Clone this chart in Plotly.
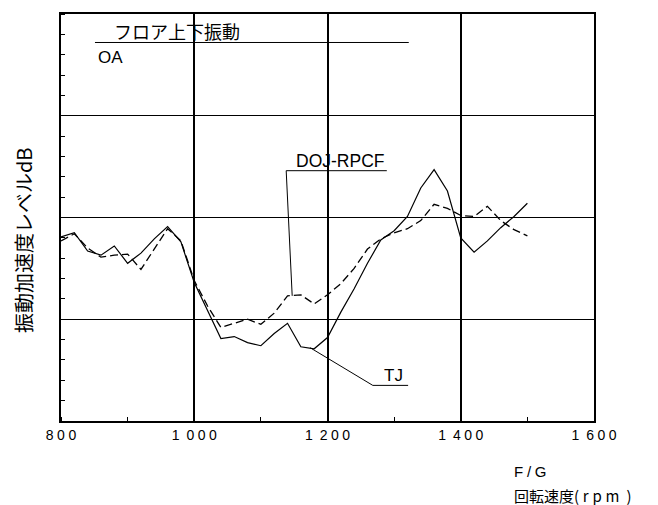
import plotly.graph_objects as go

rpm = list(range(800, 1501, 20))
tj = [18.1, 18.5, 16.7, 16.3, 17.2, 15.5, 16.5, 17.9, 19.1, 17.6,
      13.6, 10.9, 8.1, 8.3, 7.7, 7.4, 8.6, 9.6, 7.3, 7.1,
      8.2, 10.7, 13.0, 15.5, 17.8, 18.7, 20.1, 22.9, 24.7, 22.6,
      18.0, 16.6, 17.7, 19.0, 20.1, 21.4]
doj = [17.7, 18.4, 17.0, 16.1, 16.3, 16.4, 14.9, 16.9, 18.9, 17.7,
       13.8, 11.3, 9.2, 9.6, 10.0, 9.5, 10.6, 12.3, 12.4, 11.5,
       12.4, 13.5, 15.0, 16.9, 17.9, 18.5, 18.9, 19.7, 21.3, 20.9,
       20.2, 20.1, 21.1, 19.7, 18.8, 18.2]

S = "\u2005"   # narrow letter spacing
G = "\u2002"   # digit group separator
x_tickvals = [800, 1000, 1200, 1400, 1600]
x_ticktext = ["8" + S + "0" + S + "0",
              "1" + G + "0" + S + "0" + S + "0",
              "1" + G + "2" + S + "0" + S + "0",
              "1" + G + "4" + S + "0" + S + "0",
              "1" + G + "6" + S + "0" + S + "0"]
y_gridvals = [10, 20, 30]

FONT = "Liberation Sans, Arial, DejaVu Sans, Noto Sans CJK JP, sans-serif"
JP = "Noto Sans CJK JP, Liberation Sans, DejaVu Sans, sans-serif"

fig = go.Figure()
fig.add_trace(go.Scatter(x=rpm, y=tj, mode="lines", name="TJ",
                         line=dict(color="black", width=1.2)))
fig.add_trace(go.Scatter(x=rpm, y=doj, mode="lines", name="DOJ-RPCF",
                         line=dict(color="black", width=1.3, dash="8px,4px")))

line = dict(color="black", width=1)
shapes = [
    dict(type="line", xref="x", yref="y", x0=851, x1=1322, y0=37.2, y1=37.2, line=line),
    dict(type="path", xref="x", yref="y",
         path="M 1289 24.6 L 1138 24.6 L 1147 12.3", line=line),
    dict(type="path", xref="x", yref="y",
         path="M 1174 7.2 L 1268 3.5 L 1321 3.5", line=line),
]

annotations = [
    dict(text="フロア上下振動", x=877, y=38.3, xref="x", yref="y", xanchor="left",
         yanchor="middle", showarrow=False, font=dict(family=JP, size=18, color="black")),
    dict(text="OA", x=852, y=35.7, xref="x", yref="y", xanchor="left",
         yanchor="middle", showarrow=False, font=dict(family=FONT, size=17, color="black")),
    dict(text="DOJ-RPCF", x=1149, y=25.6, xref="x", yref="y", xanchor="left",
         yanchor="middle", showarrow=False, font=dict(family=FONT, size=17.5, color="black")),
    dict(text="TJ", x=1282, y=4.5, xref="x", yref="y", xanchor="left",
         yanchor="middle", showarrow=False, font=dict(family=FONT, size=17, color="black")),
    dict(text="F" + S + "/" + S + "G", x=1477, y=-0.125, xref="x", yref="paper", xanchor="left",
         yanchor="middle", showarrow=False, font=dict(family=FONT, size=15, color="black")),
    dict(text="回転速度(" + S + "r" + S + "p" + S + "m" + S + " )", x=1477, y=-0.183,
         xref="x", yref="paper", xanchor="left", yanchor="middle", showarrow=False,
         font=dict(family=JP, size=15, color="black")),
    dict(text="振動加速度レベルdB", x=-0.069, y=0.445, xref="paper", yref="paper",
         xanchor="center", yanchor="middle", textangle=-90, showarrow=False,
         font=dict(family=JP, size=20, color="black")),
]

fig.update_layout(
    width=658, height=505,
    margin=dict(l=61, r=64, t=12, b=84),
    paper_bgcolor="white", plot_bgcolor="white",
    showlegend=False,
    shapes=shapes, annotations=annotations,
    font=dict(family=FONT, color="black"),
    xaxis=dict(range=[800, 1600], tickvals=x_tickvals, ticktext=x_ticktext,
               showgrid=True, gridcolor="black", gridwidth=1.6,
               showline=True, linecolor="black", linewidth=1.5, mirror=True,
               ticks="", tickfont=dict(size=14, family=FONT, color="black"),
               zeroline=False,
               minor=dict(dtick=100, tick0=800, ticks="inside", ticklen=4,
                          tickcolor="black", showgrid=False)),
    yaxis=dict(range=[0, 40], tickvals=y_gridvals, showticklabels=False,
               showgrid=True, gridcolor="black", gridwidth=1,
               showline=True, linecolor="black", linewidth=1.5, mirror=True,
               ticks="", zeroline=False,
               minor=dict(dtick=2, tick0=0, ticks="inside", ticklen=4,
                          tickcolor="black", showgrid=False)),
)

fig.write_html("out.html")
